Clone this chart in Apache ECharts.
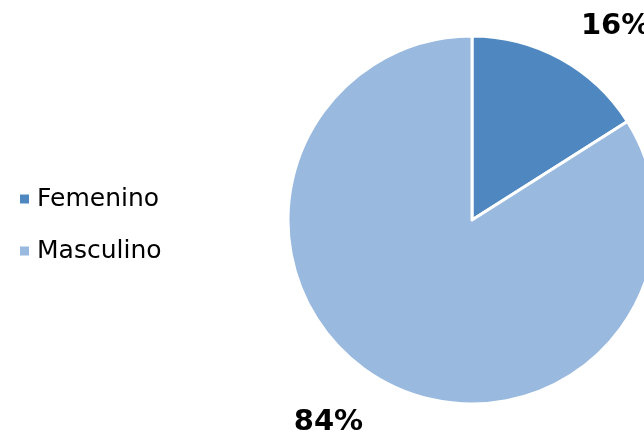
<!DOCTYPE html>
<html><head><meta charset="utf-8">
<script src="https://cdn.jsdelivr.net/npm/echarts@6/dist/echarts.min.js"></script>
<style>html,body{margin:0;padding:0;background:#fff}#c{width:644px;height:438px}</style>
</head><body><div id="c"></div>
<script>
var categories = ['Femenino', 'Masculino'];
var values = [16, 84];
var colors = ['#4F88C0', '#99B9DF'];

var chart = echarts.init(document.getElementById('c'), null, {renderer: 'canvas'});
chart.setOption({
  animation: false,
  backgroundColor: '#fff',
  legend: {
    orient: 'vertical', left: 13, top: 180,
    itemWidth: 11, itemHeight: 11, itemGap: 24, icon: 'rect',
    textStyle: {fontFamily: 'DejaVu Sans', fontSize: 25, color: '#000', lineHeight: 28, padding: [0,0,0,2]},
    data: categories
  },
  series: [{
    type: 'pie',
    center: [472, 220], radius: 184,
    startAngle: 90, clockwise: true,
    avoidLabelOverlap: false,
    itemStyle: {borderColor: '#fff', borderWidth: 3},
    label: {show: true, position: 'outside', formatter: '{p|{d}%}', distanceToLabelLine: 0,
      rich: {p: {fontFamily: 'DejaVu Sans', fontWeight: 'bold', fontSize: 29, color: '#000', padding: [9,0,0,0]}}},
    labelLine: {show: false, length: 42, length2: 0},
    data: categories.map(function (c, i) { return {name: c, value: values[i], itemStyle: {color: colors[i]}}; })
  }]
});
</script></body></html>
